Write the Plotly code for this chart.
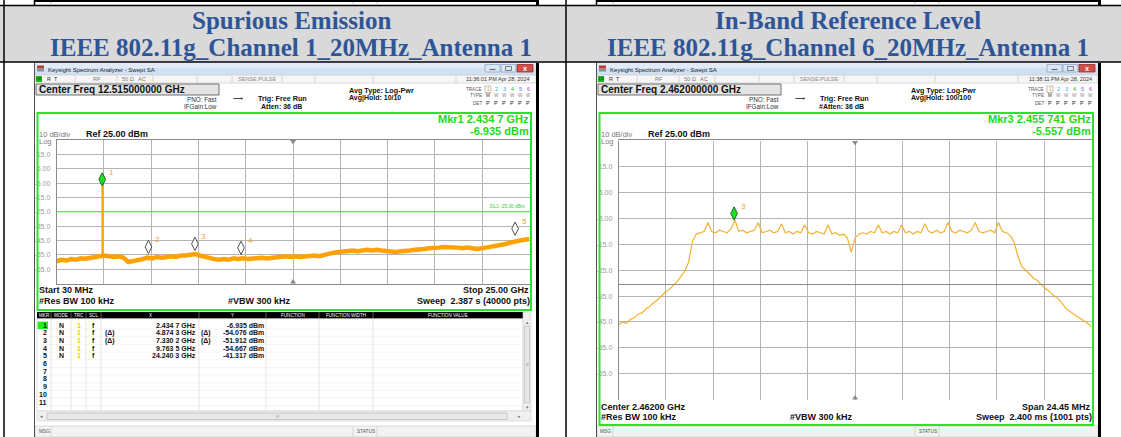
import numpy as np
import plotly.graph_objects as go

W, H = 1121, 437

# ---------------- data ----------------
title_left = ["Spurious Emission", "IEEE 802.11g_Channel 1_20MHz_Antenna 1"]
title_right = ["In-Band Reference Level", "IEEE 802.11g_Channel 6_20MHz_Antenna 1"]

ref_level_dbm = 25.0
db_per_div = 10.0
y_tick_text = ["15.0", "5.00", "-5.00", "-15.0", "-25.0", "-35.0", "-45.0", "-55.0", "-65.0"]

# Spurious emission sweep (30 MHz .. 25 GHz)
spur_start_ghz = 0.03
spur_stop_ghz = 25.0
spur_level_dbm = [
    -59.5, -58.5, -59.0, -58.0, -58.5, -57.5, -57.8, -57.0, -56.5, -56.0,
    -55.5, -56.0, -56.5, -56.0, -57.0, -60.0, -59.5, -58.5, -58.0, -57.0,
    -57.5, -56.5, -57.0, -56.5, -56.0, -56.5, -55.5, -55.5, -55.0, -54.5,
    -55.5, -56.5, -57.5, -58.0, -58.5, -58.0, -58.5, -57.5, -58.0, -57.5,
    -58.0, -57.5, -57.5, -57.0, -57.5, -57.0, -56.5, -56.5, -56.0, -56.5,
    -56.0, -56.5, -56.0, -56.0, -55.5, -56.0, -55.0, -54.5, -53.5, -53.0,
    -52.5, -52.5, -52.0, -52.5, -52.0, -51.5, -52.0, -51.5, -52.0, -52.5,
    -52.5, -53.0, -52.5, -52.5, -52.0, -51.5, -51.5, -51.0, -50.5, -50.5,
    -50.0, -49.5, -49.5, -50.0, -50.0, -50.5, -50.0, -50.5, -51.0, -50.5,
    -50.0, -49.0, -48.5, -48.0, -47.5, -46.5, -45.5, -45.0, -44.5, -44.0]
spur_mkr_no = [1, 2, 3, 4, 5]
spur_mkr_ghz = [2.4347, 4.8743, 7.3302, 9.7635, 24.2403]
spur_mkr_dbm = [-6.935, -54.076, -51.912, -54.667, -41.317]
spur_mkr_delta = [False, True, True, False, False]
display_line_dbm = -25.0

# In-band sweep (center 2.462 GHz, span 24.45 MHz)
inband_center_ghz = 2.462
inband_span_mhz = 24.45
inband_level_dbm = [
    -46.0, -45.0, -45.5, -44.0, -43.5, -42.0, -41.5, -40.0, -39.0, -37.5,
    -36.5, -35.0, -33.5, -32.5, -31.0, -29.5, -27.5, -25.5, -22.0, -14.0,
    -11.0, -10.5, -10.0, -6.5, -10.0, -10.5, -9.5, -10.0, -10.5, -9.0,
    -5.6, -10.0, -9.5, -10.5, -10.0, -9.5, -6.5, -10.5, -10.0, -9.5,
    -10.5, -10.0, -7.0, -10.5, -10.0, -11.0, -10.0, -10.5, -7.5, -10.5,
    -11.0, -10.0, -10.5, -11.0, -7.5, -11.0, -10.5, -11.5, -11.0, -12.5,
    -18.0, -12.5, -11.0, -10.5, -11.0, -10.0, -10.5, -7.5, -10.5, -10.0,
    -11.0, -10.0, -10.5, -7.5, -10.5, -10.0, -11.0, -10.0, -10.5, -7.0,
    -10.0, -10.5, -9.5, -10.5, -10.0, -6.5, -10.0, -10.5, -9.5, -10.0,
    -10.5, -9.5, -6.5, -10.0, -10.5, -10.0, -9.5, -10.5, -6.5, -10.0,
    -10.5, -11.5, -14.0, -19.5, -23.5, -25.0, -26.5, -28.0, -29.0, -30.5,
    -32.0, -33.0, -34.5, -35.5, -37.0, -39.0, -40.5, -41.5, -42.5, -43.5,
    -44.5, -45.5, -47.0]
inband_mkr_no = [3]
inband_mkr_ghz = [2.455741]
inband_mkr_dbm = [-5.557]

# ---------------- helpers ----------------
SANS = "Liberation Sans, Arial, sans-serif"
SERIF = "Liberation Serif, Times New Roman, serif"
GREEN = "#2ee02e"
TRACE_ORANGE = "#ffa200"

shapes, anns = [], []


def X(px):
    return px / W


def Y(py):
    return 1 - py / H


def rect(x0, y0, x1, y1, fill=None, line=None, lw=1, layer="below"):
    shapes.append(dict(type="rect", xref="paper", yref="paper",
                       x0=X(x0), x1=X(x1), y0=Y(y1), y1=Y(y0),
                       fillcolor=fill if fill else "rgba(0,0,0,0)",
                       line=dict(color=line if line else "rgba(0,0,0,0)",
                                 width=lw if line else 0),
                       layer=layer))


def seg(x0, y0, x1, y1, color, lw=1, layer="above"):
    shapes.append(dict(type="line", xref="paper", yref="paper",
                       x0=X(x0), x1=X(x1), y0=Y(y0), y1=Y(y1),
                       line=dict(color=color, width=lw), layer=layer))


def poly(pts, fill):
    path = "M" + " L".join(f"{X(a):.5f},{Y(b):.5f}" for a, b in pts) + " Z"
    shapes.append(dict(type="path", xref="paper", yref="paper", path=path,
                       fillcolor=fill, line=dict(width=0), layer="above"))


def txt(x, y, s, size=7, color="#000", bold=False, anchor="left", family=SANS):
    anns.append(dict(xref="paper", yref="paper", x=X(x), y=Y(y),
                     text=f"<b>{s}</b>" if bold else s, showarrow=False,
                     xanchor=anchor, yanchor="middle", borderpad=0,
                     font=dict(size=size, color=color, family=family)))


def fmt_ghz(g, dec):
    s = f"{g:.{dec}f}"
    head, tail = s[:-(dec - 3)], s[-(dec - 3):]
    return head + " " + tail


# ---------------- page / table chrome ----------------
rect(0, 5, W, 62, fill="#d9d9d9")
seg(0, 5.5, W, 5.5, "#000", 1.5)
seg(0, 62, W, 62, "#000", 1.5)
for xv in (4, 566):
    seg(xv, 0, xv, 437, "#000", 1.5)
for ox in (0, 562):
    seg(34 + ox, 1, 538 + ox, 1, "#000", 2)
    seg(34.5 + ox, 0, 34.5 + ox, 5, "#000", 1.5)
    seg(537.5 + ox, 0, 537.5 + ox, 5, "#000", 3)
    for xv in (51, 353, 377):
        seg(xv + ox, 2, xv + ox, 5, "#c8c8c8", 1)

for (t1, t2), cx in ((title_left, 291), (title_right, 848)):
    txt(cx, 20.5, t1, size=25, color="#2e5597", bold=True, anchor="center", family=SERIF)
    txt(cx, 47.5, t2, size=25, color="#2e5597", bold=True, anchor="center", family=SERIF)


def sa_window(ox, green_bottom, info):
    L, R = 35 + ox, 536 + ox
    rect(L, 63, R, 437, fill="#ffffff")
    seg(L - 0.5, 63, L - 0.5, 437, "#505050", 1)
    rect(R, 63, R + 3, 437, fill="#000000", layer="above")
    # title bar
    rect(L, 63, R, 75, fill="#d2e1f2")
    rect(L, 63, R, 68, fill="#e1ebf7")
    rect(37 + ox, 65.5, 44 + ox, 68.5, fill="#c0392b")
    rect(37 + ox, 68.5, 44 + ox, 71.5, fill="#8a8f94")
    txt(47 + ox, 69.5, "Keysight Spectrum Analyzer - Swept SA", size=6, color="#1b1b1b")
    rect(485 + ox, 64.5, 500 + ox, 72, fill="#dbe6f4", line="#8ea6c8", lw=0.8)
    rect(501 + ox, 64.5, 516 + ox, 72, fill="#dbe6f4", line="#8ea6c8", lw=0.8)
    rect(517 + ox, 64.5, 533 + ox, 72, fill="#d2504a", line="#9b2b26", lw=0.8)
    seg(489.5 + ox, 69.5, 495.5 + ox, 69.5, "#667", 1.2)
    rect(505.5 + ox, 66.5, 511.5 + ox, 70.5, line="#667", lw=0.8)
    txt(525 + ox, 68.3, "x", size=7, color="#ffffff", bold=True, anchor="center")
    # status row
    rect(L, 75, R, 83, fill="#f6f6f6", line="#c8c8c8", lw=0.7)
    for xv in (75, 117, 153, 197, 232, 282, 315, 373, 456):
        seg(xv + ox, 75.5, xv + ox, 82.5, "#c8c8c8", 0.7)
    rect(36 + ox, 76, 42 + ox, 82, fill="#22b522")
    txt(39 + ox, 79, "LXI", size=3.5, color="#0a300a", anchor="center")
    txt(46 + ox, 79, "R", size=5.5, color="#333")
    txt(53 + ox, 79, "T", size=5.5, color="#333")
    txt(97 + ox, 79, "RF", size=5.5, color="#777", anchor="center")
    txt(121 + ox, 79, "50 Ω", size=5.5, color="#777")
    txt(137 + ox, 79, "AC", size=5.5, color="#777")
    txt(257 + ox, 79, "SENSE:PULSE", size=5.5, color="#888", anchor="center")
    txt(531 + ox, 79, info["time"], size=5.5, color="#333", anchor="right")
    # centre freq box
    rect(36 + ox, 84, 219 + ox, 95, fill="#e4e4e4", line="#707070", lw=1)
    txt(38 + ox, 89.8, info["cf"], size=10, color="#111", bold=True)
    txt(218 + ox, 99, "PNO: Fast", size=6.3, color="#333", anchor="right")
    txt(218 + ox, 106.5, "IFGain:Low", size=6.3, color="#333", anchor="right")
    txt(238 + ox, 98.5, "⟶", size=7, color="#444", anchor="center")
    txt(257 + ox, 98.5, "Trig: Free Run", size=7.2, color="#111", bold=True)
    txt(info["atten_x"] + ox, 106, info["atten"], size=7, color="#111", bold=True)
    txt(348 + ox, 90.5, "Avg Type: Log-Pwr", size=7.2, color="#111", bold=True)
    txt(348 + ox, 97.5, info["avg"], size=7, color="#111", bold=True)
    txt(483 + ox, 89, "TRACE", size=4.6, color="#555", anchor="right")
    txt(483 + ox, 96, "TYPE", size=4.6, color="#555", anchor="right")
    txt(483 + ox, 103, "DET", size=4.6, color="#555", anchor="right")
    tcols = ["#e0a000", "#00b4d8", "#4aa0ff", "#22bb22", "#6a6aff", "#c040c0"]
    rect(485 + ox, 86, 491 + ox, 92.5, line="#999", lw=0.6)
    for k in range(6):
        xx = 488 + 8 * k + ox
        txt(xx, 89, str(k + 1), size=5.5, color=tcols[k], anchor="center")
        txt(xx, 96, "M" if k == 0 else "W", size=4.6, color="#333" if k == 0 else "#888", anchor="center")
        txt(xx, 103, "P", size=5.5, color="#222", anchor="center")
    # green measurement frame
    rect(37.5 + ox, 113, 531 + ox, green_bottom, line=GREEN, lw=2, layer="above")
    txt(530 + ox, 119.5, info["mkr1"], size=11, color="#22d822", bold=True, anchor="right")
    txt(530 + ox, 131, info["mkr2"], size=11, color="#22d822", bold=True, anchor="right")
    txt(38 + ox, 134, "10 dB/div", size=7.5, color="#7a7a7a")
    txt(85 + ox, 134, "Ref 25.00 dBm", size=9, color="#111", bold=True)
    txt(38 + ox, 141.5, "Log", size=7.5, color="#7a7a7a")
    # bottom annotation lines
    y1, y2 = info["foot_y"]
    txt(38 + ox, y1, info["foot_l"], size=9, color="#111", bold=True)
    txt(530 + ox, y1, info["foot_r"], size=9, color="#111", bold=True, anchor="right")
    txt(38 + ox, y2, "#Res BW 100 kHz", size=9, color="#111", bold=True)
    txt(227 + ox, y2, "#VBW 300 kHz", size=9, color="#111", bold=True)
    txt(531 + ox, y2, info["sweep"], size=9, color="#111", bold=True, anchor="right")
    # message bar
    rect(L, 426, R, 437, fill="#f2f2f2", line="#cfcfcf", lw=0.7)
    for xv in (51, 353, 377):
        seg(xv + ox, 426.5, xv + ox, 437, "#cfcfcf", 0.8)
    txt(37.5 + ox, 431.5, "MSG", size=4.8, color="#555")
    txt(356 + ox, 431.5, "STATUS", size=4.8, color="#555")


sa_window(0, 310, dict(
    time="11:36:01 PM Apr 28, 2024", cf="Center Freq 12.515000000 GHz",
    atten="Atten: 36 dB", atten_x=260, avg="Avg|Hold: 10/10",
    mkr1=f"Mkr{spur_mkr_no[0]} {fmt_ghz(spur_mkr_ghz[0], 4)} GHz",
    mkr2=f"{spur_mkr_dbm[0]:.3f} dBm",
    foot_y=(290, 301), foot_l=f"Start {spur_start_ghz * 1000:.0f} MHz",
    foot_r=f"Stop {spur_stop_ghz:.2f} GHz", sweep="Sweep&nbsp; 2.387 s (40000 pts)"))

sa_window(562, 425, dict(
    time="11:38:11 PM Apr 28, 2024", cf="Center Freq 2.462000000 GHz",
    atten="#Atten: 36 dB", atten_x=256, avg="Avg|Hold: 100/100",
    mkr1=f"Mkr{inband_mkr_no[0]} {fmt_ghz(inband_mkr_ghz[0], 6)} GHz",
    mkr2=f"{inband_mkr_dbm[0]:.3f} dBm",
    foot_y=(406.5, 417), foot_l=f"Center {inband_center_ghz:.5f} GHz",
    foot_r=f"Span {inband_span_mhz:.2f} MHz", sweep="Sweep&nbsp; 2.400 ms (1001 pts)"))

# ---------------- marker table (left) ----------------
cols = [37, 51, 71, 86, 101, 199, 266, 319, 373, 523]
rect(37, 312, 523, 318.8, fill="#000000")
rect(37, 318.8, 523, 411, fill="#ffffff", line="#d0d0d0", lw=0.7)
heads = ["MKR", "MODE", "TRC", "SCL", "X", "Y", "FUNCTION", "FUNCTION WIDTH", "FUNCTION VALUE"]
for k, hd in enumerate(heads):
    txt((cols[k] + cols[k + 1]) / 2, 315.4, hd, size=4.6, color="#ffffff", anchor="center")
for xv in cols[1:-1]:
    seg(xv, 312, xv, 318.8, "#808080", 0.7)
    seg(xv, 318.8, xv, 411, "#dadada", 0.7)
row_y0, row_dy = 325.3, 7.67
for r in range(11):
    yb = row_y0 + row_dy * r + row_dy / 2
    seg(37, yb, 523, yb, "#efefef", 0.6, layer="below")
rect(37.5, 321.6, 48, 329, fill="#22ee22")
for r in range(11):
    txt(48, row_y0 + row_dy * r, str(r + 1), size=7, color="#111", bold=True, anchor="right")
for i, no in enumerate(spur_mkr_no):
    yy = row_y0 + row_dy * i
    txt(61, yy, "N", size=7, color="#111", bold=True, anchor="center")
    txt(78.5, yy, "1", size=7, color="#f0c800", bold=True, anchor="center")
    txt(93.5, yy, "f", size=7, color="#111", bold=True, anchor="center")
    if spur_mkr_delta[i]:
        txt(104, yy, "(Δ)", size=7, color="#111", bold=True)
        txt(200, yy, "(Δ)", size=7, color="#111", bold=True)
    txt(197, yy, f"{fmt_ghz(spur_mkr_ghz[i], 4)} GHz", size=7, color="#111", bold=True, anchor="right")
    txt(265, yy, f"{spur_mkr_dbm[i]:.3f} dBm", size=7, color="#111", bold=True, anchor="right")
# scrollbars
rect(523, 312, 531, 411, fill="#f0f0f0", line="#d0d0d0", lw=0.6)
rect(524.5, 326, 529.5, 403, fill="#e6e6e6", line="#b8b8b8", lw=0.6)
txt(527, 321.5, "▴", size=5, color="#777", anchor="center")
txt(527, 407, "▾", size=5, color="#777", anchor="center")
txt(527, 364, "≡", size=5, color="#999", anchor="center")
rect(37, 411, 531, 421, fill="#f0f0f0", line="#d0d0d0", lw=0.6)
rect(47, 413, 507, 419.5, fill="#e8e8e8", line="#b0b0b0", lw=0.6)
txt(41, 416, "◂", size=5, color="#777", anchor="center")
txt(519, 416, "▸", size=5, color="#777", anchor="center")
txt(277, 416, "III", size=4, color="#999", anchor="center")

# ---------------- plots ----------------
GRID = "#b4b4b4"
BOX = "#8a8a8a"
lg = dict(x=(56.7, 529.5), y=(140, 283.5))
rg = dict(x=(618.7, 1091.5), y=(141, 399.5))
tickvals = [ref_level_dbm - db_per_div * (k + 1) for k in range(len(y_tick_text))]
yrange = [ref_level_dbm - 10 * db_per_div, ref_level_dbm]


def xaxis(g, rng):
    return dict(domain=[X(g["x"][0]), X(g["x"][1])], range=rng, tickmode="linear",
                tick0=rng[0], dtick=(rng[1] - rng[0]) / 10, showticklabels=False, ticks="",
                showgrid=True, gridcolor=GRID, gridwidth=1, zeroline=False,
                showline=True, mirror=True, linecolor=BOX, linewidth=1, fixedrange=True)


def yaxis(g, anchor):
    return dict(domain=[Y(g["y"][1]), Y(g["y"][0])], range=yrange, tickmode="array",
                tickvals=tickvals, ticktext=y_tick_text, ticks="", ticklabelstandoff=4,
                tickfont=dict(size=7, color="#9a9a9a", family=SANS),
                showgrid=True, gridcolor=GRID, gridwidth=1, zeroline=False,
                showline=True, mirror=True, linecolor=BOX, linewidth=1,
                anchor=anchor, fixedrange=True)


spur_freq = np.linspace(spur_start_ghz, spur_stop_ghz, len(spur_level_dbm))
half_span_ghz = inband_span_mhz / 2000.0
inband_freq = np.linspace(inband_center_ghz - half_span_ghz, inband_center_ghz + half_span_ghz,
                          len(inband_level_dbm))

# pixel -> dB conversion so that marker diamonds sit with their tip on the trace
l_px_per_db = (lg["y"][1] - lg["y"][0]) / (10 * db_per_div)
r_px_per_db = (rg["y"][1] - rg["y"][0]) / (10 * db_per_div)
tip_px = 6.5

fig = go.Figure()
fig.add_trace(go.Scatter(x=spur_freq, y=spur_level_dbm, mode="lines",
                         line=dict(color=TRACE_ORANGE, width=4.5), xaxis="x", yaxis="y",
                         hoverinfo="skip", showlegend=False))
carrier_idx = int(np.argmin(np.abs(spur_freq - spur_mkr_ghz[0])))
fig.add_trace(go.Scatter(x=[spur_mkr_ghz[0], spur_mkr_ghz[0]],
                         y=[spur_level_dbm[carrier_idx], spur_mkr_dbm[0]], mode="lines",
                         line=dict(color=TRACE_ORANGE, width=1.5), xaxis="x", yaxis="y",
                         hoverinfo="skip", showlegend=False))
fig.add_trace(go.Scatter(x=spur_mkr_ghz, y=[v + tip_px / l_px_per_db for v in spur_mkr_dbm],
                         mode="markers", xaxis="x", yaxis="y", hoverinfo="skip", showlegend=False,
                         marker=dict(symbol="diamond-tall", size=9.5,
                                     color=["#22e022"] + ["#ffffff"] * (len(spur_mkr_ghz) - 1),
                                     line=dict(color=["#1c6e1c"] + ["#505050"] * (len(spur_mkr_ghz) - 1), width=1)),
                         cliponaxis=False))
fig.add_trace(go.Scatter(x=inband_freq, y=inband_level_dbm, mode="lines",
                         line=dict(color="#f3b133", width=1.2), xaxis="x2", yaxis="y2",
                         hoverinfo="skip", showlegend=False))
fig.add_trace(go.Scatter(x=inband_mkr_ghz, y=[v + tip_px / r_px_per_db for v in inband_mkr_dbm],
                         mode="markers", xaxis="x2", yaxis="y2", hoverinfo="skip", showlegend=False,
                         marker=dict(symbol="diamond-tall", size=9.5, color="#22e022",
                                     line=dict(color="#1c6e1c", width=1)), cliponaxis=False))

for no, g, v in zip(spur_mkr_no, spur_mkr_ghz, spur_mkr_dbm):
    anns.append(dict(xref="x", yref="y", x=g, y=v, text=str(no), showarrow=False,
                     xanchor="left", yanchor="middle", xshift=4.5, yshift=13.5,
                     font=dict(size=8, color="#f0a030", family=SANS)))
for no, g, v in zip(inband_mkr_no, inband_mkr_ghz, inband_mkr_dbm):
    anns.append(dict(xref="x2", yref="y2", x=g, y=v, text=str(no), showarrow=False,
                     xanchor="left", yanchor="middle", xshift=4.5, yshift=13.5,
                     font=dict(size=8, color="#f0a030", family=SANS)))

# display line DL1
shapes.append(dict(type="line", xref="x domain", yref="y", x0=0, x1=1,
                   y0=display_line_dbm, y1=display_line_dbm,
                   line=dict(color="#55dd55", width=1), layer="above"))
anns.append(dict(xref="x domain", yref="y", x=0.995, y=display_line_dbm,
                 text=f"DL1 {display_line_dbm:.2f} dBm", showarrow=False,
                 xanchor="right", yanchor="bottom", yshift=1,
                 font=dict(size=4.8, color="#33cc33", family=SANS)))

# centre-frequency triangles on the graticule
for g in (lg, rg):
    cx = (g["x"][0] + g["x"][1]) / 2
    t, b = g["y"]
    poly([(cx - 3, t), (cx + 3, t), (cx, t + 4.5)], "#8a8a8a")
    poly([(cx - 3, b), (cx + 3, b), (cx, b - 4.5)], "#8a8a8a")

fig.update_layout(
    width=W, height=H, autosize=False,
    margin=dict(l=0, r=0, t=0, b=0, pad=0),
    paper_bgcolor="#ffffff", plot_bgcolor="rgba(0,0,0,0)",
    xaxis=xaxis(lg, [spur_start_ghz, spur_stop_ghz]),
    yaxis=yaxis(lg, "x"),
    xaxis2=xaxis(rg, [inband_center_ghz - half_span_ghz, inband_center_ghz + half_span_ghz]),
    yaxis2=yaxis(rg, "x2"),
    shapes=shapes, annotations=anns, showlegend=False,
)

fig.write_html("out.html", config={"displayModeBar": False, "staticPlot": True},
               post_script="document.body.style.margin='0';document.body.style.overflow='hidden';")
